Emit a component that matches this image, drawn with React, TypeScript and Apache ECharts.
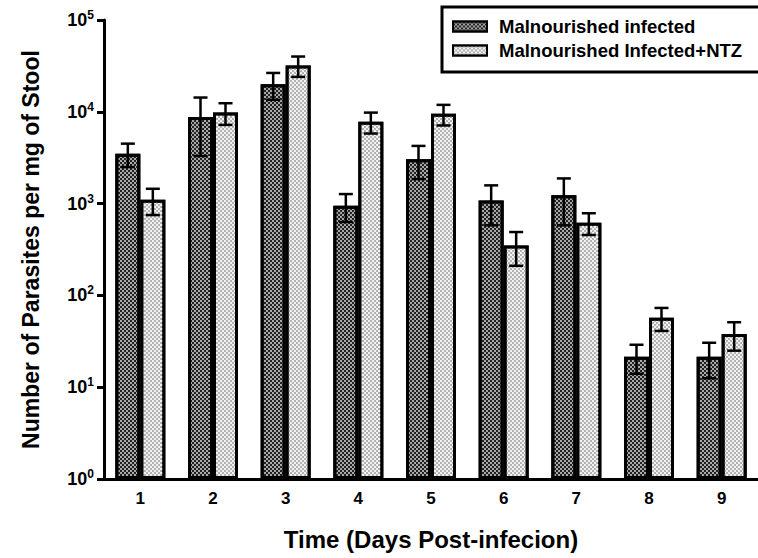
import React, { useEffect, useRef } from "react";
import * as echarts from "echarts";

const categories = ["1", "2", "3", "4", "5", "6", "7", "8", "9"];
const seriesNames = ["Malnourished infected", "Malnourished Infected+NTZ"];
const infected = [3500, 8800, 20000, 950, 3050, 1080, 1230, 21.5, 21.5];
const infectedErr = [1000, 5500, 6500, 320, 1200, 500, 650, 7.5, 9];
const ntz = [1100, 9800, 32000, 7800, 9500, 350, 620, 57, 38];
const ntzErr = [350, 2600, 8000, 2000, 2400, 140, 165, 16, 13];
const yTicksExp = [0, 1, 2, 3, 4, 5];

const FONT = "'Liberation Sans', Arial, sans-serif";
const BAR_W = 25;

function errorSeries(values: number[], errs: number[], offset: number) {
  return {
    type: "custom",
    z: 5,
    encode: { x: 0, y: 1 },
    data: values.map((v, i) => [i, v, errs[i]]),
    renderItem: (params: any, api: any) => {
      const i = api.value(0);
      const v = api.value(1);
      const e = api.value(2);
      const top = api.coord([i, v + e]);
      const bot = api.coord([i, Math.max(v - e, 1)]);
      const x = top[0] + offset;
      const cap = 7;
      const style = { stroke: "#000", lineWidth: 2.5 };
      return {
        type: "group",
        children: [
          { type: "line", shape: { x1: x, y1: top[1], x2: x, y2: bot[1] }, style },
          { type: "line", shape: { x1: x - cap, y1: top[1], x2: x + cap, y2: top[1] }, style },
          { type: "line", shape: { x1: x - cap, y1: bot[1], x2: x + cap, y2: bot[1] }, style },
        ],
      };
    },
  };
}

export default function App() {
  const ref = useRef<HTMLDivElement>(null);
  useEffect(() => {
    if (!ref.current) return;
    const chart = echarts.init(ref.current, undefined, { renderer: "svg" });
    chart.setOption({
      animation: false,
      backgroundColor: "#fff",
      aria: { enabled: true, decal: { show: true } },
      textStyle: { fontFamily: FONT },
      grid: { left: 104, top: 20, bottom: 79, width: 660 },
      legend: {
        data: seriesNames,
        orient: "vertical",
        left: 452,
        top: 17,
        padding: 0,
        itemGap: 5,
        itemWidth: 34,
        itemHeight: 10,
        icon: "rect",
        textStyle: {
          fontFamily: FONT,
          fontWeight: "bold",
          fontSize: 18.5,
          color: "#000",
          padding: [0, 0, 0, 7],
        },
      },
      graphic: [
        {
          type: "rect",
          shape: { x: 442, y: 7, width: 330, height: 65 },
          style: { fill: "none", stroke: "#000", lineWidth: 3 },
          z: 10,
        },
      ],
      xAxis: {
        type: "category",
        data: categories,
        name: "Time (Days Post-infecion)",
        nameLocation: "middle",
        nameGap: 48,
        nameTextStyle: { fontFamily: FONT, fontWeight: "bold", fontSize: 24, color: "#000" },
        axisLine: { lineStyle: { color: "#000", width: 3 } },
        axisTick: { alignWithLabel: true, length: 7, lineStyle: { color: "#000", width: 3 } },
        axisLabel: { fontFamily: FONT, fontWeight: "bold", fontSize: 17, color: "#000", margin: 11 },
      },
      yAxis: {
        type: "log",
        logBase: 10,
        min: Math.pow(10, yTicksExp[0]),
        max: Math.pow(10, yTicksExp[yTicksExp.length - 1]),
        name: "Number of Parasites per mg of Stool",
        nameLocation: "middle",
        nameGap: 62,
        nameTextStyle: { fontFamily: FONT, fontWeight: "bold", fontSize: 23, color: "#000" },
        axisLine: { show: true, lineStyle: { color: "#000", width: 3 } },
        axisTick: { show: true, length: 7, lineStyle: { color: "#000", width: 3 } },
        minorTick: { show: false },
        splitLine: { show: false },
        axisLabel: {
          margin: 10,
          formatter: (v: number) => `{b|10}{s|${Math.round(Math.log10(v))}}`,
          rich: {
            b: { fontFamily: FONT, fontWeight: "bold", fontSize: 18, color: "#000" },
            s: { fontFamily: FONT, fontWeight: "bold", fontSize: 12, color: "#000", padding: [0, 0, 10, 0] },
          },
        },
      },
      series: [
        {
          name: seriesNames[0],
          type: "bar",
          data: infected,
          barWidth: BAR_W,
          barGap: "0%",
          itemStyle: {
            color: "#a8a8a8",
            borderColor: "#000",
            borderWidth: 3,
            decal: {
              symbol: "rect",
              symbolSize: 1,
              color: "#222222",
              dashArrayX: [[2, 2], [0, 2, 2, 0]],
              dashArrayY: [2, 0],
              rotation: 0,
            },
          },
        },
        {
          name: seriesNames[1],
          type: "bar",
          data: ntz,
          barWidth: BAR_W,
          barGap: "0%",
          itemStyle: {
            color: "#f2f2f2",
            borderColor: "#000",
            borderWidth: 3,
            decal: {
              symbol: "rect",
              symbolSize: 1,
              color: "#b2b2b2",
              dashArrayX: [[2, 2], [0, 2, 2, 0]],
              dashArrayY: [2, 0],
              rotation: 0,
            },
          },
        },
        errorSeries(infected, infectedErr, -BAR_W / 2),
        errorSeries(ntz, ntzErr, BAR_W / 2),
      ],
    });
    return () => chart.dispose();
  }, []);
  return <div ref={ref} style={{ width: 758, height: 558, position: "absolute", left: 0, top: 0 }} />;
}
